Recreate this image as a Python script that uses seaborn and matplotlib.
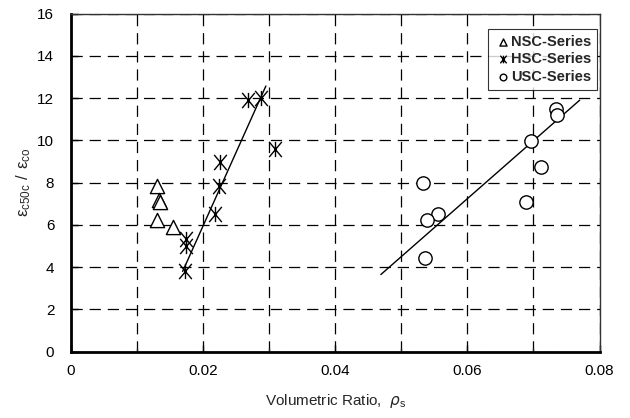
import matplotlib
matplotlib.use("Agg")
import matplotlib.pyplot as plt
from matplotlib.path import Path
from matplotlib.ticker import MultipleLocator, FuncFormatter
import pandas as pd
import seaborn as sns

# --- data ---
nsc_x = [0.0130, 0.0133, 0.0134, 0.0130, 0.0154]
nsc_y = [7.84, 7.20, 7.06, 6.21, 5.91]

hsc_x = [0.0172, 0.0174, 0.0174, 0.0218, 0.0224, 0.0225, 0.0268, 0.0287, 0.0309]
hsc_y = [3.80, 5.31, 5.02, 6.50, 7.84, 8.98, 11.93, 12.01, 9.59]

usc_x = [0.0734, 0.0736, 0.0696, 0.0712, 0.0688, 0.0533, 0.0555, 0.0539, 0.0536]
usc_y = [11.49, 11.20, 9.97, 8.76, 7.08, 7.98, 6.51, 6.21, 4.41]

# trend lines (end points)
hsc_fit_x = [0.0169, 0.0295]
hsc_fit_y = [3.80, 12.57]
usc_fit_x = [0.0469, 0.0770]
usc_fit_y = [3.65, 11.90]

series_names = ["NSC-Series", "HSC-Series", "USC-Series"]

df = pd.concat([
    pd.DataFrame({"rho": nsc_x, "ratio": nsc_y, "series": series_names[0]}),
    pd.DataFrame({"rho": hsc_x, "ratio": hsc_y, "series": series_names[1]}),
    pd.DataFrame({"rho": usc_x, "ratio": usc_y, "series": series_names[2]}),
])

sns.set_theme(style="white")
plt.rcParams["font.family"] = ["Liberation Sans", "DejaVu Sans"]
plt.rcParams["mathtext.fontset"] = "dejavusans"

# asterisk: X with steep arms plus a vertical bar
c, s = 0.64, 0.77
star = Path(
    [(0, -s), (0, s), (-c, -s), (c, s), (-c, s), (c, -s)],
    [Path.MOVETO, Path.LINETO, Path.MOVETO, Path.LINETO, Path.MOVETO, Path.LINETO],
)

fig = plt.figure(figsize=(6.3, 4.18), dpi=100)
ax = fig.add_axes([0.1127, 0.1586, 0.8389, 0.8091])

ax.grid(True, which="both", color="black", linestyle=(0, (9, 5.5)), linewidth=0.9)
ax.set_axisbelow(True)

sns.scatterplot(data=df[df.series == "NSC-Series"], x="rho", y="ratio", ax=ax,
                marker="^", s=105, facecolor="white", edgecolor="black",
                linewidth=1.0, label="NSC-Series", zorder=3)
sns.scatterplot(data=df[df.series == "HSC-Series"], x="rho", y="ratio", ax=ax,
                marker=star, s=120, color="black", edgecolor="black",
                linewidth=1.0, label="HSC-Series", zorder=3)
sns.scatterplot(data=df[df.series == "USC-Series"], x="rho", y="ratio", ax=ax,
                marker="o", s=92, facecolor="white", edgecolor="black",
                linewidth=1.0, label="USC-Series", zorder=3)

sns.lineplot(x=hsc_fit_x, y=hsc_fit_y, ax=ax, color="black", linewidth=1.0, zorder=2)
sns.lineplot(x=usc_fit_x, y=usc_fit_y, ax=ax, color="black", linewidth=1.0, zorder=2)

ax.set_xlim(0, 0.08)
ax.set_ylim(0, 16)
ax.xaxis.set_major_locator(MultipleLocator(0.02))
ax.xaxis.set_minor_locator(MultipleLocator(0.01))
ax.yaxis.set_major_locator(MultipleLocator(2))
ax.xaxis.set_major_formatter(FuncFormatter(lambda v, p: "0" if v == 0 else f"{v:.2f}"))

ax.tick_params(axis="both", which="major", direction="in", length=5, width=1,
               labelsize=11, colors="black", bottom=True, left=True)
ax.tick_params(axis="x", which="minor", direction="in", length=3, width=1, bottom=True)
ax.tick_params(axis="x", pad=9)
ax.tick_params(axis="y", pad=12)

for side in ["left", "bottom"]:
    ax.spines[side].set_linewidth(2.0)
    ax.spines[side].set_color("black")
for side in ["top", "right"]:
    ax.spines[side].set_linewidth(1.0)
    ax.spines[side].set_color("#333333")

ax.set_xlabel(r"Volumetric Ratio,  $\rho_\mathregular{s}$", fontsize=11, labelpad=10)
ax.set_ylabel(r"$\mathregular{\varepsilon_{c50c}\ /\ \varepsilon_{co}}$",
              fontsize=12, labelpad=3)

leg = ax.legend(loc="upper right", bbox_to_anchor=(0.996, 0.955), borderaxespad=0,
                frameon=True, fancybox=False, edgecolor="black", markerscale=0.5,
                handletextpad=0.0, handlelength=1.2, borderpad=0.4,
                labelspacing=0.25, prop={"weight": "bold", "size": 10.5})
leg.get_frame().set_linewidth(0.8)

fig.savefig("out.png", dpi=100)
